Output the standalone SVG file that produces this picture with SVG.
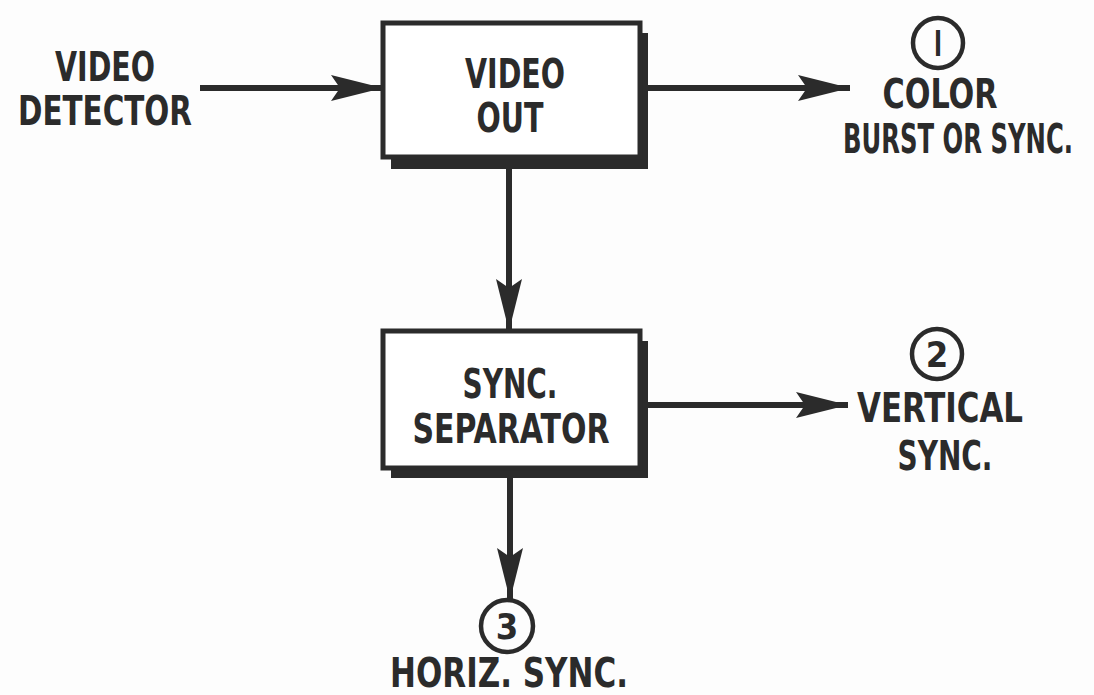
<svg xmlns="http://www.w3.org/2000/svg" width="1094" height="695" viewBox="0 0 1094 695">
<defs>
<style>
.t{font-family:"DejaVu Sans Condensed","DejaVu Sans",sans-serif;font-size:40px;font-weight:bold;fill:#2b2b2b;text-anchor:middle}
.n{font-family:"DejaVu Sans Condensed","DejaVu Sans",sans-serif;font-size:36px;font-weight:bold;fill:#2b2b2b;text-anchor:middle}
.box{fill:#ffffff;stroke:#2b2b2b;stroke-width:5}
.shadow{fill:#2b2b2b}
.line{stroke:#2b2b2b;stroke-width:6;fill:none}
.ring{fill:none;stroke:#2b2b2b;stroke-width:4.5}
</style>
<marker id="ah" viewBox="0 0 52 26" refX="52" refY="13" markerWidth="52" markerHeight="26" markerUnits="userSpaceOnUse" orient="auto">
<path d="M0,0 L52,13 L0,26 L9,13 Z" fill="#2b2b2b"/>
</marker>
</defs>
<rect width="1094" height="695" fill="#fdfdfd"/>
<g id="connectors">
<line class="line" x1="200" y1="88" x2="383" y2="88" marker-end="url(#ah)"/>
<line class="line" x1="648" y1="88" x2="850" y2="88" marker-end="url(#ah)"/>
<line class="line" x1="509" y1="168" x2="509" y2="331" marker-end="url(#ah)"/>
<line class="line" x1="648" y1="405" x2="848" y2="405" marker-end="url(#ah)"/>
<line class="line" x1="510" y1="478" x2="510" y2="600" marker-end="url(#ah)"/>
</g>
<g id="video-detector">
<text class="t" x="105" y="81" textLength="100" lengthAdjust="spacingAndGlyphs">VIDEO</text>
<text class="t" x="105" y="125" textLength="174" lengthAdjust="spacingAndGlyphs">DETECTOR</text>
</g>
<g id="video-out">
<rect class="shadow" x="391" y="33" width="257" height="136"/>
<rect class="box" x="383" y="23" width="257" height="134"/>
<text class="t" x="515" y="88" textLength="100" lengthAdjust="spacingAndGlyphs">VIDEO</text>
<text class="t" x="510" y="132" textLength="67" lengthAdjust="spacingAndGlyphs">OUT</text>
</g>
<g id="sync-separator">
<rect class="shadow" x="391" y="341" width="257" height="137"/>
<rect class="box" x="383" y="331" width="257" height="137"/>
<text class="t" x="510" y="398" textLength="95" lengthAdjust="spacingAndGlyphs">SYNC.</text>
<text class="t" x="511" y="443" textLength="197" lengthAdjust="spacingAndGlyphs">SEPARATOR</text>
</g>
<g id="out-1">
<circle class="ring" cx="938" cy="43" r="25"/>
<text class="n" x="938" y="56" textLength="8" lengthAdjust="spacingAndGlyphs">I</text>
<text class="t" x="940" y="108" textLength="115" lengthAdjust="spacingAndGlyphs">COLOR</text>
<text class="t" x="958" y="153" textLength="230" lengthAdjust="spacingAndGlyphs">BURST OR SYNC.</text>
</g>
<g id="out-2">
<circle class="ring" cx="937" cy="354" r="25"/>
<text class="n" x="937" y="367">2</text>
<text class="t" x="940" y="422" textLength="166" lengthAdjust="spacingAndGlyphs">VERTICAL</text>
<text class="t" x="945" y="470" textLength="95" lengthAdjust="spacingAndGlyphs">SYNC.</text>
</g>
<g id="out-3">
<circle class="ring" cx="507" cy="626" r="26"/>
<text class="n" x="507" y="639">3</text>
<text class="t" x="509" y="687" textLength="238" lengthAdjust="spacingAndGlyphs">HORIZ. SYNC.</text>
</g>
</svg>
